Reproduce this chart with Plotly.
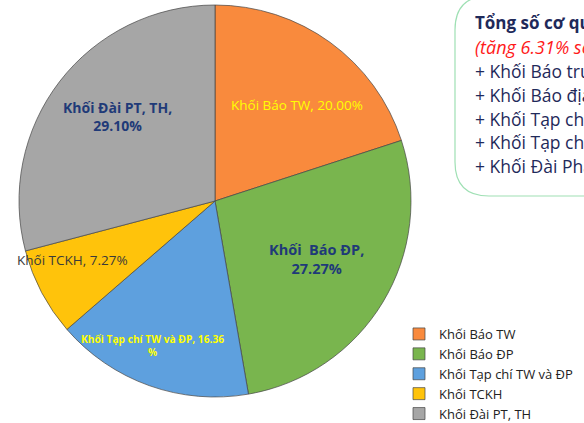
import math
import plotly.graph_objects as go

# Data
labels = ['Khối Báo TW', 'Khối Báo ĐP', 'Khối Tạp chí TW và ĐP', 'Khối TCKH', 'Khối Đài PT, TH']
values = [20.00, 27.27, 16.36, 7.27, 29.10]
slice_text = ['Khối Báo TW, 20.00%', 'Khối  Báo ĐP,<br>27.27%', 'Khối Tạp chí TW và ĐP, 16.36<br>%',
              'Khối TCKH, 7.27%', 'Khối Đài PT, TH,<br>29.10%']
colours = ['#F98A3D', '#79B54E', '#5EA0DE', '#FFC30B', '#A6A6A6']

box_title = 'Tổng số cơ quan báo chí'
box_note = '(tăng 6.31% so với năm trước)'
box_lines = ['+ Khối Báo trung ương', '+ Khối Báo địa phương', '+ Khối Tạp chí TW và ĐP',
             '+ Khối Tạp chí khoa học', '+ Khối Đài Phát thanh, Truyền hình']

# label styling (slide text formatting)
label_colour = ['#FFFF00', '#1F3A78', '#FFFF00', '#3A3A3A', '#1F3A78']
label_bold = [False, True, True, False, True]
label_size = [13.5, 14.5, 10.2, 13.5, 14]
label_frac = [0.65, 0.61, 0.80, 0.80, 0.67]
label_nudge = [(7, 7), (0, -3), (-10, -2), (-5, -14), (6, -5)]   # px tweaks as on the slide

W, H = 584, 423
cx, cy, r = 215, 201, 196   # pie centre / radius in px (cy from top)

fig = go.Figure()
fig.add_trace(go.Pie(
    labels=labels, values=values, sort=False, direction='clockwise', rotation=0,
    marker=dict(colors=colours, line=dict(color='rgba(70,70,70,0.7)', width=1)),
    textinfo='none', textposition='none', hoverinfo='label+percent',
    domain=dict(x=[(cx - r) / W, (cx + r) / W], y=[(H - cy - r) / H, (H - cy + r) / H]),
))

# slice labels placed along each slice's mid angle
total = sum(values)
cum = 0
for i, v in enumerate(values):
    mid = (cum + v / 2) / total * 2 * math.pi
    cum += v
    px = cx + label_frac[i] * 195 * math.sin(mid) + label_nudge[i][0]
    py = cy - label_frac[i] * 195 * math.cos(mid) + label_nudge[i][1]
    txt = slice_text[i]
    if label_bold[i]:
        txt = '<b>' + txt.replace('<br>', '</b><br><b>') + '</b>'
    fig.add_annotation(x=px / W, y=1 - py / H, xref='paper', yref='paper', text=txt,
                       xanchor='center', yanchor='middle',
                       showarrow=False, align='center',
                       font=dict(family='Open Sans', size=label_size[i], color=label_colour[i]))

# rounded text box at top right (cut off by slide edge)
x0, x1, y0, y1, rad = 455, 640, -4, 196, 34
def P(x, y):
    return f'{x / W:.4f},{1 - y / H:.4f}'
path = (f'M {P(x0, y0 + rad)} Q {P(x0, y0)} {P(x0 + rad, y0)} L {P(x1, y0)} L {P(x1, y1)} '
        f'L {P(x0 + rad, y1)} Q {P(x0, y1)} {P(x0, y1 - rad)} Z')
fig.add_shape(type='path', path=path, xref='paper', yref='paper',
              line=dict(color='#9FE0B4', width=1.2), fillcolor='white')

tx = 473
fig.add_annotation(x=tx / W, y=1 - 23 / H, xref='paper', yref='paper', xanchor='left', yanchor='middle',
                   text='<b>' + box_title + '</b>', showarrow=False,
                   font=dict(family='Open Sans', size=17, color='#1F2A5A'))
fig.add_annotation(x=tx / W, y=1 - 47 / H, xref='paper', yref='paper', xanchor='left', yanchor='middle',
                   text='<i>' + box_note + '</i>', showarrow=False,
                   font=dict(family='Open Sans', size=18, color='#FF1A1A'))
for k, line in enumerate(box_lines):
    fig.add_annotation(x=tx / W, y=1 - (71 + 23.8 * k) / H, xref='paper', yref='paper',
                       xanchor='left', yanchor='middle', text=line, showarrow=False,
                       font=dict(family='Open Sans', size=17.5, color='#1F2A5A'))

fig.update_layout(
    width=W, height=H, margin=dict(l=0, r=0, t=0, b=0, autoexpand=False),
    paper_bgcolor='white', plot_bgcolor='white',
    showlegend=True,
    legend=dict(x=399 / W, y=1 - 319 / H, xanchor='left', yanchor='top',
                font=dict(family='Open Sans', size=13, color='#222222'),
                bgcolor='rgba(0,0,0,0)', tracegroupgap=0, itemwidth=30),
)

# page has a default 8px body margin; drop it so the figure fills the window
fig.write_html('out.html', config={'displayModeBar': False},
               post_script="document.body.style.margin='0';")
